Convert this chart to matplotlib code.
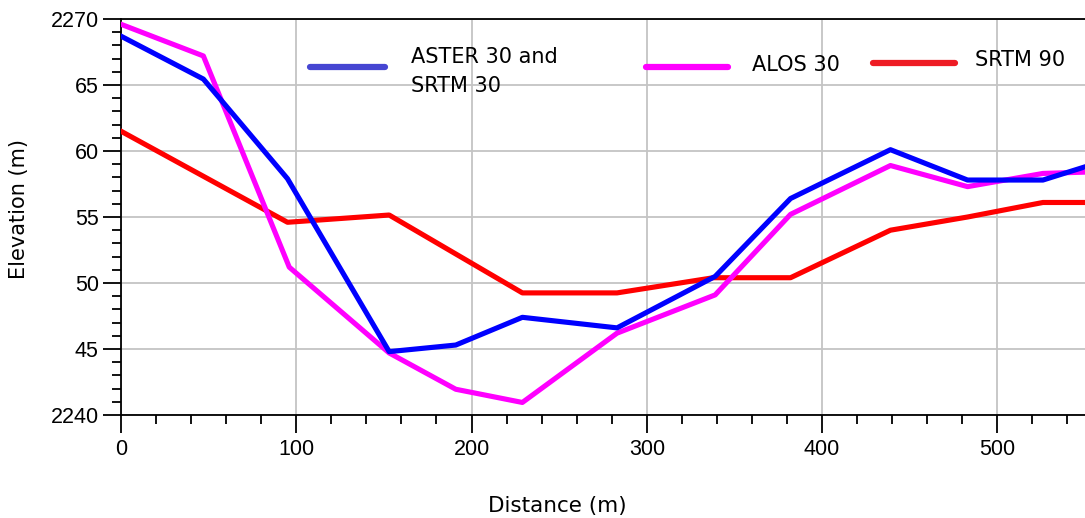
import numpy as np
import matplotlib
matplotlib.use("Agg")
import matplotlib.pyplot as plt
from matplotlib.ticker import MultipleLocator, FixedLocator, FixedFormatter

# profile data (distance in m, elevation in m)
dist_aster = [0, 47, 95, 153, 191, 229, 283, 339, 382, 439, 483, 526, 550]
elev_aster = [2268.7, 2265.45, 2257.9, 2244.8, 2245.3, 2247.4, 2246.6, 2250.5, 2256.4, 2260.1, 2257.8, 2257.8, 2258.8]

dist_alos = [0, 47, 96, 153, 191, 229, 283, 339, 382, 439, 483, 526, 550]
elev_alos = [2269.6, 2267.2, 2251.2, 2244.7, 2241.95, 2240.95, 2246.2, 2249.1, 2255.2, 2258.9, 2257.3, 2258.3, 2258.4]

dist_srtm90 = [0, 95, 153, 229, 283, 338, 382, 439, 483, 526, 550]
elev_srtm90 = [2261.5, 2254.6, 2255.15, 2249.25, 2249.25, 2250.4, 2250.4, 2254.0, 2255.0, 2256.1, 2256.1]

y_ticks = [2240, 2245, 2250, 2255, 2260, 2265, 2270]
y_tick_labels = ["2240", "45", "50", "55", "60", "65", "2270"]
x_ticks = [0, 100, 200, 300, 400, 500]

legend_labels = ["ASTER 30 and\nSRTM 30", "ALOS 30", "SRTM 90"]
legend_colors = ["#4646d2", "#ff00ff", "#ee1c24"]

plt.rcParams["font.family"] = ["Liberation Sans", "DejaVu Sans"]

fig = plt.figure(figsize=(10.85, 5.18), dpi=100)
ax = fig.add_axes([121 / 1085, 1 - 415 / 518, 1 - 121 / 1085, (415 - 19) / 518])

lw = 3.7
ax.plot(dist_srtm90, elev_srtm90, color="#ff0000", lw=lw, zorder=3)
ax.plot(dist_alos, elev_alos, color="#ff00ff", lw=lw, zorder=4)
ax.plot(dist_aster, elev_aster, color="#0000ff", lw=lw, zorder=5)

ax.set_xlim(0, 550)
ax.set_ylim(2240, 2270)

ax.xaxis.set_major_locator(FixedLocator(x_ticks))
ax.xaxis.set_minor_locator(MultipleLocator(20))
ax.yaxis.set_major_locator(FixedLocator(y_ticks))
ax.yaxis.set_major_formatter(FixedFormatter(y_tick_labels))
ax.yaxis.set_minor_locator(MultipleLocator(1))

ax.tick_params(which="major", direction="out", length=13, width=1.3, pad=3,
               labelsize=15.5, colors="black")
ax.tick_params(axis="x", which="major", pad=4)
ax.tick_params(which="minor", direction="out", length=6.5, width=1.3)

ax.grid(True, which="major", color="#c4c4c4", lw=1.3, zorder=0)
ax.set_axisbelow(True)

for side in ["left", "bottom", "top"]:
    ax.spines[side].set_color("black")
    ax.spines[side].set_linewidth(1.3)
ax.spines["right"].set_visible(False)

ax.set_xlabel("Distance (m)", fontsize=15.5, family="DejaVu Sans")
ax.xaxis.set_label_coords(0.453, -0.205)
ax.set_ylabel("Elevation (m)", fontsize=15, family="DejaVu Sans")
ax.yaxis.set_label_coords(-0.095, 0.52)

# legend drawn by hand to follow the original layout
handle_x = [(0.196, 0.274), (0.545, 0.63), (0.78, 0.865)]
handle_y = [0.879, 0.879, 0.888]
text_x = [0.301, 0.655, 0.886]
text_y = [0.93, 0.91, 0.921]
for (x0, x1), hy, tx, ty, lab, col in zip(handle_x, handle_y, text_x, text_y,
                                          legend_labels, legend_colors):
    ax.plot([x0, x1], [hy, hy], color=col, lw=4.5, solid_capstyle="round",
            transform=ax.transAxes, zorder=6, clip_on=False)
    ax.text(tx, ty, lab, transform=ax.transAxes, fontsize=15,
            family="DejaVu Sans", va="top", ha="left", linespacing=1.55, zorder=6)

fig.savefig("out.png", dpi=100)
